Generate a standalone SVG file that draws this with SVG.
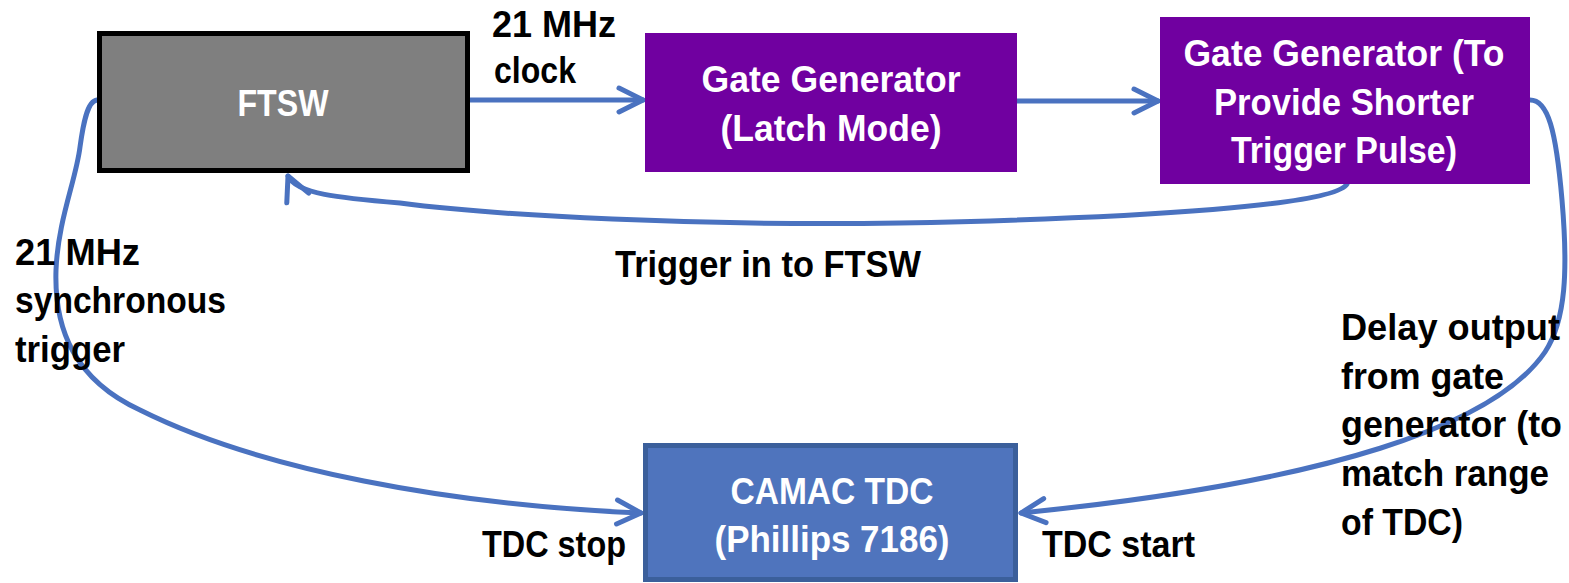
<svg xmlns="http://www.w3.org/2000/svg" width="1569" height="583" viewBox="0 0 1569 583">
<style>
  .t { font-family: "Liberation Sans", Arial, sans-serif; font-weight: bold; font-size: 36px; }
  .w { fill: #ffffff; text-anchor: middle; }
  .k { fill: #000000; }
  .c { fill: none; stroke: #4a72c0; stroke-width: 5; stroke-linecap: round; }
</style>
<defs>
  <marker id="ah" markerUnits="userSpaceOnUse" viewBox="-30 -16 34 32" markerWidth="34" markerHeight="32" refX="0" refY="0" orient="auto">
    <path d="M -24 -12 L 0 0 L -24 12" fill="none" stroke="#4a72c0" stroke-width="5" stroke-linecap="round" stroke-linejoin="round"/>
  </marker>
</defs>
<rect width="1569" height="583" fill="#ffffff"/>

<g id="connectors">
  <path class="c" d="M 470 100 L 643 100" marker-end="url(#ah)"/>
  <path class="c" d="M 1017 101 L 1158 101" marker-end="url(#ah)"/>
  <path class="c" d="M 1347 184 C 1335 205, 1150 218, 900 223 C 700 226, 500 216, 400 203 C 340 198, 296 194, 288 176" marker-end="url(#ah)"/>
  <path class="c" d="M 97 100 C 87 101, 83 125, 80 147 C 76 180, 58 220, 56 270 C 54 330, 75 380, 140 410 C 260 470, 450 505, 641 513" marker-end="url(#ah)"/>
  <path class="c" d="M 1530 100 C 1548 100, 1556 130, 1562 200 C 1568 270, 1566 320, 1545 352 C 1495 425, 1330 482, 1021 513" marker-end="url(#ah)"/>
</g>

<g id="ftsw">
  <rect x="99.5" y="33.5" width="368" height="137" fill="#7f7f7f" stroke="#000000" stroke-width="5"/>
  <text class="t w" x="283" y="116" textLength="91" lengthAdjust="spacingAndGlyphs">FTSW</text>
</g>

<g id="gate-latch">
  <rect x="645" y="33" width="372" height="139" fill="#7000a0"/>
  <text class="t w" x="831" y="92" textLength="259" lengthAdjust="spacingAndGlyphs">Gate Generator</text>
  <text class="t w" x="831" y="141" textLength="221" lengthAdjust="spacingAndGlyphs">(Latch Mode)</text>
</g>

<g id="gate-short">
  <rect x="1160" y="17" width="370" height="167" fill="#7000a0"/>
  <text class="t w" x="1344" y="66" textLength="321" lengthAdjust="spacingAndGlyphs">Gate Generator (To</text>
  <text class="t w" x="1344" y="114.5" textLength="260" lengthAdjust="spacingAndGlyphs">Provide Shorter</text>
  <text class="t w" x="1344" y="163" textLength="226" lengthAdjust="spacingAndGlyphs">Trigger Pulse)</text>
</g>

<g id="camac-tdc">
  <rect x="645.5" y="445.5" width="370" height="134" fill="#4f74bd" stroke="#3b5f9b" stroke-width="5"/>
  <text class="t w" x="832" y="504" textLength="203" lengthAdjust="spacingAndGlyphs">CAMAC TDC</text>
  <text class="t w" x="832" y="551.5" textLength="235" lengthAdjust="spacingAndGlyphs">(Phillips 7186)</text>
</g>

<g id="labels">
  <text class="t k" x="492" y="37" textLength="124" lengthAdjust="spacingAndGlyphs">21 MHz</text>
  <text class="t k" x="494" y="83" textLength="82" lengthAdjust="spacingAndGlyphs">clock</text>
  <text class="t k" x="615" y="276.5" textLength="306" lengthAdjust="spacingAndGlyphs">Trigger in to FTSW</text>
  <text class="t k" x="15" y="265" textLength="125" lengthAdjust="spacingAndGlyphs">21 MHz</text>
  <text class="t k" x="15" y="313" textLength="211" lengthAdjust="spacingAndGlyphs">synchronous</text>
  <text class="t k" x="15" y="361.5" textLength="110" lengthAdjust="spacingAndGlyphs">trigger</text>
  <text class="t k" x="482" y="556.5" textLength="144" lengthAdjust="spacingAndGlyphs">TDC stop</text>
  <text class="t k" x="1042" y="556.5" textLength="153" lengthAdjust="spacingAndGlyphs">TDC start</text>
  <text class="t k" x="1341" y="340" textLength="219" lengthAdjust="spacingAndGlyphs">Delay output</text>
  <text class="t k" x="1341" y="388.5" textLength="163" lengthAdjust="spacingAndGlyphs">from gate</text>
  <text class="t k" x="1341" y="437" textLength="221" lengthAdjust="spacingAndGlyphs">generator (to</text>
  <text class="t k" x="1341" y="486" textLength="208" lengthAdjust="spacingAndGlyphs">match range</text>
  <text class="t k" x="1341" y="535" textLength="122" lengthAdjust="spacingAndGlyphs">of TDC)</text>
</g>
</svg>
